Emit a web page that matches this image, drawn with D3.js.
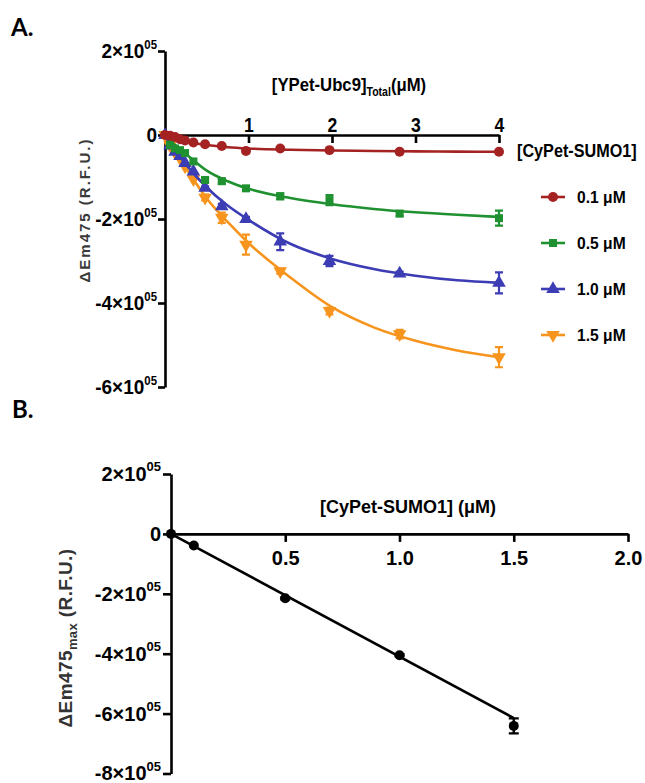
<!DOCTYPE html>
<html>
<head>
<meta charset="utf-8">
<script src="https://cdn.jsdelivr.net/npm/d3@7"></script>
<style>
body{margin:0;background:#fff}
svg{display:block}
.bold{font-family:"Liberation Sans",Arial,sans-serif;font-weight:bold}
</style>
</head>
<body>
<div id="container"></div>
<script>
// panel A : titration with YPet-Ubc9 (values in units of 1e5 R.F.U.)
var xA = [0, 0.06, 0.12, 0.18, 0.24, 0.34, 0.48, 0.68, 0.97, 1.38, 1.97, 2.81, 4.0]
var red = [0, -0.02, -0.05, -0.1, -0.13, -0.18, -0.22, -0.26, -0.38, -0.32, -0.36, -0.4, -0.4]
var green = [0, -0.24, -0.32, -0.36, -0.43, -0.63, -1.07, -1.1, -1.27, -1.46, -1.55, -1.87, -1.98]
var blue = [0, -0.25, -0.4, -0.5, -0.67, -0.87, -1.26, -1.7, -2.0, -2.54, -3.0, -3.3, -3.52]
var orange = [0, -0.25, -0.42, -0.55, -0.75, -1.05, -1.49, -1.97, -2.61, -3.24, -4.19, -4.74, -5.29]
var redErr = [0, 0, 0, 0, 0, 0, 0, 0, 0.05, 0.03, 0.03, 0.03, 0.04]
var greenErr = [0, 0, 0, 0, 0, 0, 0.05, 0.06, 0.05, 0.07, 0.12, 0.06, 0.18]
var blueErr = [0, 0, 0, 0, 0, 0, 0.04, 0.06, 0.05, 0.2, 0.12, 0.05, 0.25]
var orangeErr = [0, 0, 0, 0, 0, 0, 0.07, 0.12, 0.24, 0.06, 0.08, 0.1, 0.24]

// fitted curves
var fitX = [0, 0.1, 0.25, 0.5, 0.75, 1, 1.5, 2, 2.5, 3, 3.5, 4]
var redFit = [0, -0.08, -0.16, -0.24, -0.29, -0.32, -0.35, -0.37, -0.38, -0.39, -0.395, -0.4]
var greenFit = [0, -0.2, -0.45, -0.85, -1.1, -1.28, -1.5, -1.65, -1.76, -1.84, -1.9, -1.95]
var blueFit = [0, -0.3, -0.7, -1.25, -1.68, -2.02, -2.59, -2.95, -3.19, -3.35, -3.46, -3.52]
var orangeFit = [0, -0.32, -0.78, -1.51, -2.07, -2.57, -3.39, -4.1, -4.58, -4.9, -5.13, -5.29]

var legendLabels = ["0.1 \u03bcM", "0.5 \u03bcM", "1.0 \u03bcM", "1.5 \u03bcM"]
var xTicksA = [1, 2, 3, 4]
var yTicksA = [2e5, 0, -2e5, -4e5, -6e5]

// panel B : max change vs CyPet-SUMO1
var xB = [0, 0.1, 0.5, 1.0, 1.5]
var yB = [0, -0.39, -2.15, -4.05, -6.41]
var errB = [0, 0, 0.03, 0.03, 0.25]
var fitBX = [0, 1.5]
var fitBY = [0, -6.15]
var xTicksB = [0.5, 1.0, 1.5, 2.0]
var yTicksB = [2e5, 0, -2e5, -4e5, -6e5, -8e5]

var W = 645, H = 783
var svg = d3.select("#container").append("svg").attr("width", W).attr("height", H)

function sciLabels(sel, supSize){
    sel.each(function(d){
        var t = d3.select(this)
        t.text(null)
        if(d == 0){ t.append("tspan").text("0"); return }
        t.append("tspan").text((d/1e5) + "\u00d710")
        t.append("tspan").attr("font-size", supSize).attr("dy", "-0.75em").text("05")
    })
}

// squeeze a text horizontally around its anchor point (narrow face of the original)
function narrow(sel, f){
    sel.each(function(){
        var t = d3.select(this)
        var x = +t.attr("x") || 0, y = +t.attr("y") || 0
        t.attr("x", 0).attr("y", 0).attr("transform", "translate(" + x + "," + y + ") scale(" + f + ",1)")
    })
}

/* ---------- panel A ---------- */
var xScaleA = d3.scaleLinear().domain([0, 4]).range([165, 499])
var yScaleA = d3.scaleLinear().domain([-6e5, 2e5]).range([387, 51])

svg.append("text").attr("x", 11).attr("y", 36).attr("font-weight", "bold")
    .attr("font-size", 24).attr("font-family", "Lato, sans-serif").text("A.")

var yAxisA = d3.axisLeft(yScaleA).tickValues(yTicksA).tickSize(7).tickSizeOuter(0).tickPadding(1)
var gyA = svg.append("g").attr("transform", "translate(" + xScaleA(0) + ",0)").call(yAxisA)
gyA.selectAll("text").attr("class", "bold").attr("font-size", 20).attr("fill", "#000")
    .call(sciLabels, 12).call(narrow, 0.95)

var xAxisA = d3.axisTop(xScaleA).tickValues(xTicksA).tickFormat(d3.format("d")).tickSize(-8).tickSizeOuter(0).tickPadding(3)
var gxA = svg.append("g").attr("transform", "translate(0," + yScaleA(0) + ")").call(xAxisA)
gxA.selectAll("text").attr("class", "bold").attr("font-size", 20).attr("fill", "#000").call(narrow, 0.88)

svg.selectAll(".domain, .tick line").attr("stroke", "#000").attr("stroke-width", 2.6)

var xt = svg.append("text").attr("class", "bold").attr("x", 349).attr("y", 91)
    .attr("text-anchor", "middle").attr("font-size", 19)
xt.append("tspan").text("[YPet-Ubc9]")
xt.append("tspan").attr("font-size", 12).attr("dy", 5).text("Total")
xt.append("tspan").attr("dy", -5).text("(\u03bcM)")
xt.call(narrow, 0.88)

svg.append("text").attr("transform", "translate(90,210) rotate(-90)")
    .attr("text-anchor", "middle").attr("font-family", "Liberation Sans, Arial, sans-serif")
    .attr("font-size", 15).attr("font-weight", "bold").attr("fill", "#3a3a3a").attr("letter-spacing", 2)
    .text("\u0394Em475 (R.F.U.)")

var seriesA = [
    {vals: orange, err: orangeErr, fit: orangeFit, color: "#F7941E", sym: d3.symbolTriangle, rot: 180, size: 80},
    {vals: blue, err: blueErr, fit: blueFit, color: "#3C3CB4", sym: d3.symbolTriangle, rot: 0, size: 80},
    {vals: green, err: greenErr, fit: greenFit, color: "#1F9130", sym: d3.symbolSquare, rot: 0, size: 64},
    {vals: red, err: redErr, fit: redFit, color: "#A52222", sym: d3.symbolCircle, rot: 0, size: 78}
]

var lineA = d3.line().curve(d3.curveMonotoneX)
    .x(function(d){ return xScaleA(d[0]) })
    .y(function(d){ return yScaleA(d[1] * 1e5) })

seriesA.forEach(function(s){
    var g = svg.append("g")
    g.append("path").attr("d", lineA(fitX.map(function(x, i){ return [x, s.fit[i]] })))
        .attr("fill", "none").attr("stroke", s.color).attr("stroke-width", 2.6)
    xA.forEach(function(x, i){
        var e = s.err[i]
        if(e > 0){
            var cx = xScaleA(x), y1 = yScaleA((s.vals[i] - e) * 1e5), y2 = yScaleA((s.vals[i] + e) * 1e5)
            g.append("path").attr("d", "M" + cx + "," + y1 + "V" + y2 + "M" + (cx - 4) + "," + y1 + "H" + (cx + 4) + "M" + (cx - 4) + "," + y2 + "H" + (cx + 4))
                .attr("stroke", s.color).attr("stroke-width", 2.2).attr("fill", "none")
        }
        g.append("path").attr("d", d3.symbol().type(s.sym).size(s.size)())
            .attr("transform", "translate(" + xScaleA(x) + "," + yScaleA(s.vals[i] * 1e5) + ") rotate(" + s.rot + ")")
            .attr("fill", s.color)
    })
})

// legend
svg.append("text").attr("class", "bold").attr("x", 517).attr("y", 157).attr("font-size", 18)
    .text("[CyPet-SUMO1]").call(narrow, 0.9)
var legOrder = [3, 2, 1, 0]
legOrder.forEach(function(k, i){
    var s = seriesA[k], ly = 197 + i * 46
    svg.append("line").attr("x1", 541).attr("x2", 565).attr("y1", ly).attr("y2", ly)
        .attr("stroke", s.color).attr("stroke-width", 2.6)
    svg.append("path").attr("d", d3.symbol().type(s.sym).size(s.size)())
        .attr("transform", "translate(553," + ly + ") rotate(" + s.rot + ")").attr("fill", s.color)
    svg.append("text").attr("class", "bold").attr("x", 577).attr("y", ly + 6).attr("font-size", 17)
        .text(legendLabels[i]).call(narrow, 0.92)
})

/* ---------- panel B ---------- */
var xScaleB = d3.scaleLinear().domain([0, 2]).range([171, 628])
var yScaleB = d3.scaleLinear().domain([-8e5, 2e5]).range([773.5, 474])

svg.append("text").attr("x", 12).attr("y", 418).attr("font-size", 24).attr("font-weight", "bold")
    .attr("font-family", "Lato, sans-serif").text("B.")

var yAxisB = d3.axisLeft(yScaleB).tickValues(yTicksB).tickSize(8).tickSizeOuter(0).tickPadding(2)
var gyB = svg.append("g").attr("transform", "translate(" + xScaleB(0) + ",0)").call(yAxisB)
gyB.selectAll("text").attr("class", "bold").attr("font-size", 20).attr("fill", "#000").call(sciLabels, 13)

var xAxisB = d3.axisBottom(xScaleB).tickValues(xTicksB).tickFormat(d3.format(".1f")).tickSize(8).tickSizeOuter(0).tickPadding(9)
var gxB = svg.append("g").attr("transform", "translate(0," + yScaleB(0) + ")").call(xAxisB)
gxB.selectAll("text").attr("class", "bold").attr("font-size", 20).attr("fill", "#000")

gyB.selectAll(".domain, .tick line").attr("stroke", "#000").attr("stroke-width", 2.6)
gxB.selectAll(".domain, .tick line").attr("stroke", "#000").attr("stroke-width", 2.6)

svg.append("text").attr("class", "bold").attr("x", 408).attr("y", 513)
    .attr("text-anchor", "middle").attr("font-size", 18).text("[CyPet-SUMO1] (\u03bcM)")

var ytB = svg.append("text").attr("transform", "translate(72,638) rotate(-90)")
    .attr("text-anchor", "middle").attr("font-family", "Liberation Sans, Arial, sans-serif")
    .attr("font-size", 19).attr("font-weight", "bold").attr("fill", "#333").attr("letter-spacing", 0.4)
ytB.append("tspan").text("\u0394Em475")
ytB.append("tspan").attr("font-size", 13).attr("dy", 5).text("max")
ytB.append("tspan").attr("dy", -5).text(" (R.F.U.)")

svg.append("path")
    .attr("d", d3.line().x(function(d){ return xScaleB(d[0]) }).y(function(d){ return yScaleB(d[1] * 1e5) })(fitBX.map(function(x, i){ return [x, fitBY[i]] })))
    .attr("stroke", "#000").attr("stroke-width", 2.6).attr("fill", "none")

xB.forEach(function(x, i){
    var cx = xScaleB(x), e = errB[i]
    if(e > 0){
        var y1 = yScaleB((yB[i] - e) * 1e5), y2 = yScaleB((yB[i] + e) * 1e5)
        svg.append("path").attr("d", "M" + cx + "," + y1 + "V" + y2 + "M" + (cx - 5) + "," + y1 + "H" + (cx + 5) + "M" + (cx - 5) + "," + y2 + "H" + (cx + 5))
            .attr("stroke", "#000").attr("stroke-width", 2.4).attr("fill", "none")
    }
    svg.append("circle").attr("cx", cx).attr("cy", yScaleB(yB[i] * 1e5)).attr("r", 5).attr("fill", "#000")
})
</script>
</body>
</html>
